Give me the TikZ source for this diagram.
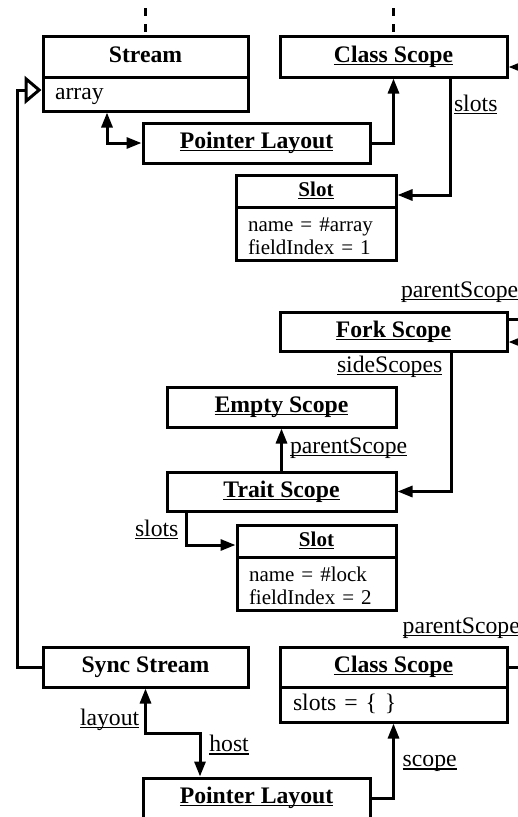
\documentclass[tikz,border=0pt]{standalone}
\usepackage{fontspec}
\setmainfont{Liberation Serif}
\usetikzlibrary{arrows.meta}
\newcommand\myul[1]{\setbox0\hbox{#1}\rlap{\rule[-2.8pt]{\wd0}{1.2pt}}\box0}
\begin{document}
\begin{tikzpicture}[x=1pt,y=-1pt,
  every node/.style={inner sep=0pt, outer sep=0pt},
  boxs/.style={draw, line width=3pt, outer sep=1.5pt},
  tx/.style={text height=16pt, text depth=5pt},
  hd/.style={boxs, tx, font=\fontsize{23.7}{27}\selectfont\bfseries},
  shd/.style={boxs, tx, font=\fontsize{21}{23}\selectfont\bfseries},
  attrbox/.style={boxs, tx, font=\fontsize{23.7}{27}\selectfont, align=left},
  sattrbox/.style={boxs, font=\fontsize{21}{23}\selectfont, align=left},
  lbl/.style={font=\fontsize{23.7}{27}\selectfont, anchor=base west},
  conn/.style={line width=3pt},
  tip/.style={-{Triangle[length=15pt,width=11pt]}},
  tipboth/.style={{Triangle[length=15pt,width=11pt]}-{Triangle[length=15pt,width=11pt]}}]
\clip (0,0) rectangle (518,817);
\useasboundingbox (0,0) rectangle (518,817);

% boxes
\node[hd, minimum width=205pt, minimum height=41pt] (stream) at (145.5,56.5) {Stream};
\node[attrbox, text width=181pt, inner xsep=12pt, minimum height=34pt] (streamattr) at (145.5,94) {array};
\node[hd, minimum width=227pt, minimum height=41pt] (cs1) at (393.5,56.5) {\myul{Class Scope}};
\node[hd, minimum width=227pt, minimum height=40pt] (pl1) at (256.5,143) {\myul{Pointer Layout}};
\node[shd, minimum width=160pt, minimum height=32pt] (slot1) at (316,191) {\myul{Slot}};
\node[sattrbox, text width=136pt, inner xsep=12pt, minimum height=53pt] (slot1attr) at (316,233.5) {\rule{0pt}{19pt}name = \#array\\fieldIndex = 1};
\node[hd, minimum width=227pt, minimum height=39pt] (fork) at (393.5,331.5) {\myul{Fork Scope}};
\node[hd, minimum width=229pt, minimum height=40pt] (empty) at (281.5,407) {\myul{Empty Scope}};
\node[hd, minimum width=229pt, minimum height=39pt] (trait) at (281.5,491.5) {\myul{Trait Scope}};
\node[shd, minimum width=159pt, minimum height=32pt] (slot2) at (316.5,541) {\myul{Slot}};
\node[sattrbox, text width=135pt, inner xsep=12pt, minimum height=53pt] (slot2attr) at (316.5,583.5) {\rule{0pt}{19pt}name = \#lock\\fieldIndex = 2};
\node[hd, minimum width=205pt, minimum height=40pt] (sync) at (145.5,667) {Sync Stream};
\node[hd, minimum width=227pt, minimum height=40pt] (cs2) at (393.5,667) {\myul{Class Scope}};
\node[attrbox, text width=201pt, inner xsep=13pt, minimum height=35pt] (cs2attr) at (393.5,704.5) {slots = \{ \}};
\node[hd, minimum width=227pt, minimum height=40pt] (pl2) at (256.5,798) {\myul{Pointer Layout}};

% labels
\node[lbl] (lslots1) at (454,111) {\myul{slots}};
\node[lbl] (lps1) at (401,297) {\myul{parentScope}};
\node[lbl] (lside) at (337,372) {\myul{sideScopes}};
\node[lbl] (lps2) at (290,453) {\myul{parentScope}};
\node[lbl] (lslots2) at (135,536) {\myul{slots}};
\node[lbl] (lps3) at (402.7,633) {\myul{parentScope}};
\node[lbl] (llayout) at (80,725) {\myul{layout}};
\node[lbl] (lhost) at (209.3,751.7) {\myul{host}};
\node[lbl] (lscope) at (402.7,766.7) {\myul{scope}};

% coordinates
\coordinate (top1) at (145.5,0);
\coordinate (top2) at (393.5,0);
\coordinate (r1) at (522,67);
\coordinate (r2) at (522,319);
\coordinate (r3) at (522,342);
\coordinate (r4) at (522,667);
\coordinate (inh) at (17.3,90);
\coordinate (h1) at (200,733.3);

% connectors
\draw[conn, dash pattern=on 8pt off 8pt, dash phase=8pt] (top1) -- (stream.north);
\draw[conn, dash pattern=on 8pt off 8pt, dash phase=8pt] (top2) -- (cs1.north);
\draw[conn, tipboth] ([xshift=-38.5pt]streamattr.south) |- (pl1.west);
\draw[conn, tip] (pl1.east) -| (cs1.south);
\draw[conn, tip] ([xshift=56.5pt]cs1.south) |- ([yshift=-4pt]slot1.east);
\draw[conn, tip] (r1) -- (r1 -| cs1.east);
\draw[conn] (r2) -- (r2 -| fork.east);
\draw[conn, tip] (r3) -- (r3 -| fork.east);
\draw[conn, tip] ([xshift=57.5pt]fork.south) |- (trait.east);
\draw[conn, tip] (trait) -- (empty);
\draw[conn, tip] ([xshift=-95.5pt]trait.south) |- ([yshift=-4pt]slot2.west);
\draw[conn, -{Triangle[open, length=17pt, width=28pt]}] (sync.west) -| (inh) -- (inh -| streamattr.west);
\draw[conn] (r4) -- (r4 -| cs2.east);
\draw[conn, tipboth] (sync.south) |- (h1) -- (h1 |- pl2.north);
\draw[conn, tip] (pl2.east) -| (cs2attr.south);
\end{tikzpicture}
\end{document}
